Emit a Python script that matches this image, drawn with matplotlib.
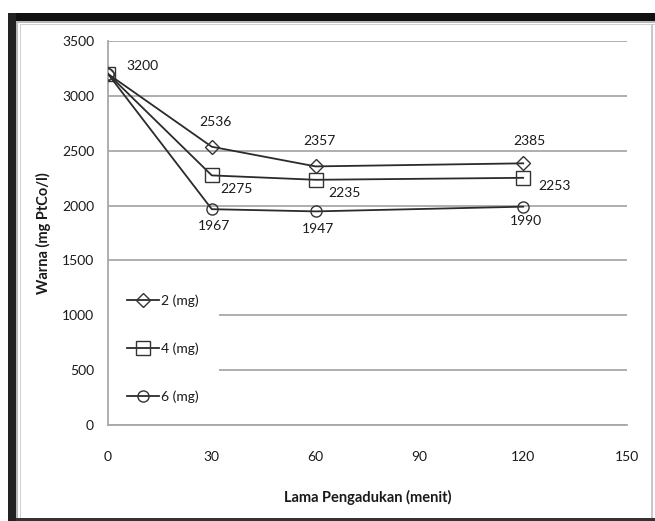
import matplotlib
matplotlib.use("Agg")
import matplotlib.pyplot as plt
from matplotlib.patches import Rectangle

plt.rcParams['font.family'] = ['Lato', 'DejaVu Sans']

# Data
waktu = [0, 30, 60, 120]
seri_2mg = [3200, 2536, 2357, 2385]
seri_4mg = [3200, 2275, 2235, 2253]
seri_6mg = [3200, 1967, 1947, 1990]
labels = ["2 (mg)", "4 (mg)", "6 (mg)"]
x_ticks = [0, 30, 60, 90, 120, 150]
y_ticks = [0, 500, 1000, 1500, 2000, 2500, 3000, 3500]

TEXT = "#1a1a1a"
W, H = 655, 521
fig = plt.figure(figsize=(W / 100, H / 100), dpi=100)
fig.patch.set_facecolor("white")


def fx(px):
    return px / W


def fy(py):
    return 1 - py / H


def band(x0, y0, x1, y1, color):
    fig.add_artist(Rectangle((fx(x0), fy(y1)), fx(x1) - fx(x0), fy(y0) - fy(y1),
                             transform=fig.transFigure, facecolor=color,
                             edgecolor="none", zorder=0))


# Picture frame
band(8, 13, W, 21, "#111111")
band(8, 13, 16, H, "#222222")
band(16, 21, W, 23, "#b8b8b8")
band(16, 21, 18, H, "#b8b8b8")
band(20, 24, W, 25, "#d0d0d0")
band(20, 24, 21, H, "#d0d0d0")
band(16, 518, W, H, "#333333")
band(651, 24, 653, 518, "#c8c8c8")

ax = fig.add_axes([fx(108), fy(425), fx(627) - fx(108), fy(41) - fy(425)])
ax.set_facecolor("none")

ax.set_xlim(0, 150)
ax.set_ylim(0, 3500)
ax.set_xticks(x_ticks)
ax.set_yticks(y_ticks)
ax.tick_params(axis="both", length=0, labelsize=10, labelcolor=TEXT)
ax.tick_params(axis="y", pad=10)
ax.tick_params(axis="x", pad=19)
ax.grid(axis="y", color="#a8a8a8", linewidth=1.3)
ax.set_axisbelow(True)
for s in ("top", "right"):
    ax.spines[s].set_visible(False)
for s in ("left", "bottom"):
    ax.spines[s].set_color("#a8a8a8")
    ax.spines[s].set_linewidth(1.3)

line_kw = dict(color="#2b2b2b", linewidth=1.3, mfc="none", mec="#333333", mew=1.0)
ax.plot(waktu, seri_2mg, marker="D", ms=7.5, label=labels[0], zorder=4, **line_kw)
ax.plot(waktu, seri_4mg, marker="s", ms=10, label=labels[1], zorder=3, **line_kw)
ax.plot(waktu, seri_6mg, marker="o", ms=8, label=labels[2], zorder=3, **line_kw)

# Value labels (offsets in pixels)
offsets = {
    "2": [(34, -8), (4, -25), (4, -25), (6, -22)],
    "4": [None, (25, 14), (29, 13), (31, 8)],
    "6": [None, (2, 17), (2, 18), (3, 14)],
}
for key, vals in (("2", seri_2mg), ("4", seri_4mg), ("6", seri_6mg)):
    for xv, yv, off in zip(waktu, vals, offsets[key]):
        if off is None:
            continue
        ax.annotate(f"{yv}", (xv, yv), xytext=(off[0] * 0.72, -off[1] * 0.72),
                    textcoords="offset points", ha="center", va="center",
                    fontsize=10, color=TEXT, zorder=6)

ax.set_xlabel("Lama Pengadukan (menit)", fontsize=10.5, fontweight="bold",
              color=TEXT, labelpad=19)
ax.set_ylabel("Warna (mg PtCo/l)", fontsize=10.5, fontweight="bold",
              color=TEXT, labelpad=8)

leg = ax.legend(loc="lower left", bbox_to_anchor=(0.0, 0.0065), frameon=True,
                fontsize=10, labelspacing=2.55, handlelength=2.3,
                handletextpad=0.15, borderpad=1.4, borderaxespad=0.0)
leg.get_frame().set_facecolor("white")
leg.get_frame().set_edgecolor("none")
leg.get_frame().set_alpha(1)
# keep the legend box below the spines so the left axis line stays visible
leg.set_zorder(2)
for t in leg.get_texts():
    t.set_color(TEXT)

fig.savefig("out.png", dpi=100, facecolor="white")
